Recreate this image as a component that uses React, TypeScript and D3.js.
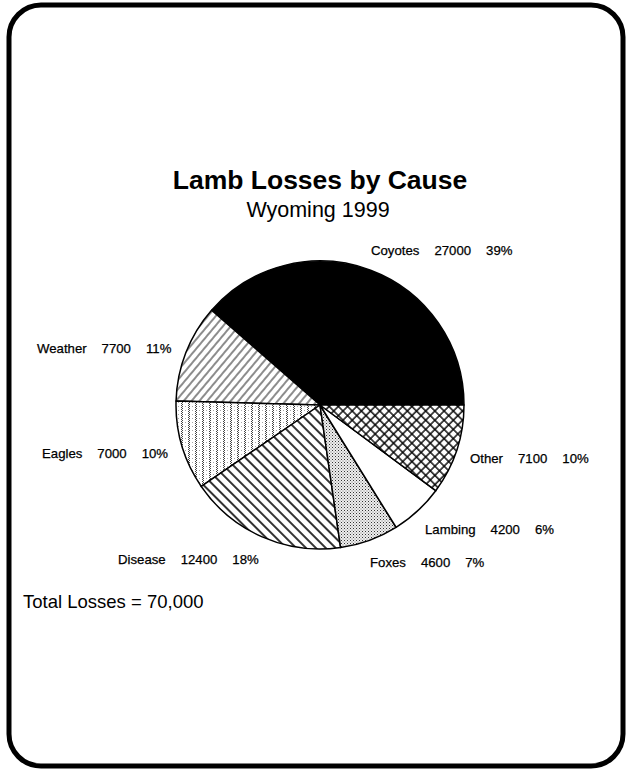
import React from "react";
import * as d3 from "d3";

const causes = ["Coyotes", "Weather", "Eagles", "Disease", "Foxes", "Lambing", "Other"];
const losses = [27000, 7700, 7000, 12400, 4600, 4200, 7100];
const percents = ["39%", "11%", "10%", "18%", "7%", "6%", "10%"];
const fills = ["#000", "url(#pWeather)", "url(#pEagles)", "url(#pDisease)", "url(#pFoxes)", "#fff", "url(#pOther)"];
// label anchor (start x, baseline y)
const labelPos: [number, number][] = [
  [371, 255], [37, 353], [42, 458], [118, 564], [370, 567], [425, 534], [470, 463],
];

const W = 630, H = 771;
const cx = 320, cy = 405, R = 144;

export default function App() {
  const pie = d3.pie<number>().sort(null).startAngle(Math.PI / 2).endAngle(Math.PI / 2 - 2 * Math.PI);
  const arcs = pie(losses);
  const arc = d3.arc<d3.PieArcDatum<number>>().innerRadius(0).outerRadius(R);
  const font = "'Liberation Sans', Arial, Helvetica, sans-serif";
  return (
    <svg width={W} height={H} style={{ position: "absolute", left: 0, top: 0, background: "#fff" }} fontFamily={font}>
      <defs>
        <pattern id="pWeather" patternUnits="userSpaceOnUse" width={6} height={6} patternTransform="rotate(40)">
          <rect width={6} height={6} fill="#fff" />
          <line x1={1} y1={0} x2={1} y2={6} stroke="#000" strokeWidth={0.9} />
        </pattern>
        <pattern id="pDisease" patternUnits="userSpaceOnUse" width={7} height={7} patternTransform="rotate(-45)">
          <rect width={7} height={7} fill="#fff" />
          <line x1={1} y1={0} x2={1} y2={7} stroke="#000" strokeWidth={1.6} />
        </pattern>
        <pattern id="pOther" patternUnits="userSpaceOnUse" width={6.5} height={6.5} patternTransform="rotate(45)">
          <rect width={6.5} height={6.5} fill="#fff" />
          <line x1={1} y1={0} x2={1} y2={6.5} stroke="#000" strokeWidth={1.4} />
          <line x1={0} y1={1} x2={6.5} y2={1} stroke="#000" strokeWidth={1.4} />
        </pattern>
        <pattern id="pEagles" patternUnits="userSpaceOnUse" width={7} height={4}>
          <rect width={7} height={4} fill="#fff" />
          <rect x={1} y={0} width={1} height={1} fill="#444" />
          <rect x={2} y={1} width={1} height={1} fill="#444" />
          <rect x={1} y={2} width={1} height={1} fill="#444" />
          <rect x={2} y={3} width={1} height={1} fill="#444" />
          <rect x={5} y={1} width={1} height={1} fill="#aaa" />
        </pattern>
        <pattern id="pFoxes" patternUnits="userSpaceOnUse" width={3} height={3}>
          <rect width={3} height={3} fill="#eee" />
          <rect x={0} y={0} width={1} height={1} fill="#333" />
          <rect x={1.5} y={1.5} width={1} height={1} fill="#777" />
        </pattern>
      </defs>
      <rect x={9} y={5} width={614} height={761} rx={32} ry={32} fill="none" stroke="#000" strokeWidth={5} />
      <text x={320} y={189} textAnchor="middle" fontSize={26.5} fontWeight="bold">Lamb Losses by Cause</text>
      <text x={318} y={217} textAnchor="middle" fontSize={21.5}>Wyoming 1999</text>
      <g transform={`translate(${cx},${cy})`}>
        {arcs.map((a, i) => (
          <path key={i} d={arc(a) || ""} fill={fills[i]} stroke="#000" strokeWidth={1.5} strokeLinejoin="round" />
        ))}
      </g>
      {causes.map((c, i) => (
        <text key={c} x={labelPos[i][0]} y={labelPos[i][1]} fontSize={13.2} stroke="#000" strokeWidth={0.25}>
          {c}
          <tspan dx={15}>{losses[i]}</tspan>
          <tspan dx={15}>{percents[i]}</tspan>
        </text>
      ))}
      <text x={23} y={608} fontSize={18.5}>Total Losses = {d3.format(",")(d3.sum(losses))}</text>
    </svg>
  );
}
